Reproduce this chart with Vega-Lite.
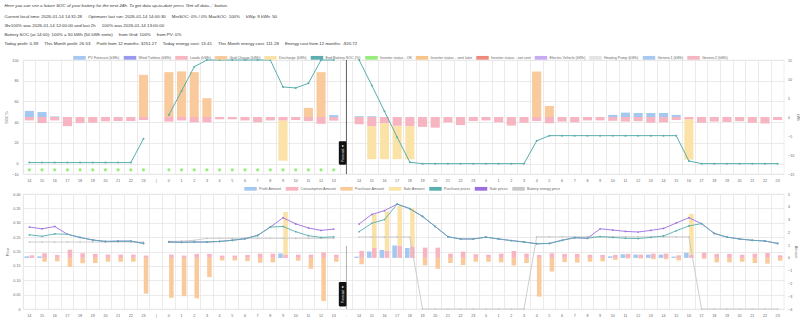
{
"$schema": "https://vega.github.io/schema/vega-lite/v6.json",
"padding": {"left": 4, "top": 2, "right": 0, "bottom": 0},
"background": "white",
"title": {
  "text": "Here you can see a future SOC of your battery for the next 24h. To get data up-to-date press 'Get all data...' button.",
  "subtitle": [
    "Current local time: 2026-01-14 14:31:28\u00a0\u00a0\u00a0\u00a0\u00a0Optimizer last run: 2026-01-14 14:00:30\u00a0\u00a0\u00a0\u00a0\u00a0MinSOC: 0% / 0% MaxSOC: 100%\u00a0\u00a0\u00a0\u00a0\u00a0kWp: 9 kWh: 50",
    "3hr100% was 2026-01-14 12:00:00 and last 2h\u00a0\u00a0\u00a0\u00a0\u00a0100% was 2026-01-14 13:00:00",
    "Battery SOC (at 14:00): 100% = 50 kWh (50 kWh netto)\u00a0\u00a0\u00a0\u00a0\u00a0from Grid: 100%\u00a0\u00a0\u00a0\u00a0\u00a0from PV: 0%",
    "Today profit: 0.39\u00a0\u00a0\u00a0\u00a0\u00a0This Month profit: 26.53\u00a0\u00a0\u00a0\u00a0\u00a0Profit from 12 months: 3251.27\u00a0\u00a0\u00a0\u00a0\u00a0Today energy cost: 13.41\u00a0\u00a0\u00a0\u00a0\u00a0This Month energy cost: 111.28\u00a0\u00a0\u00a0\u00a0\u00a0Energy cost from 12 months: -920.72"
  ],
  "anchor": "start",
  "frame": "bounds",
  "font": "Liberation Sans",
  "fontSize": 4.4,
  "fontStyle": "italic",
  "fontWeight": "normal",
  "color": "#333",
  "subtitleFont": "Liberation Sans",
  "subtitleFontSize": 4.4,
  "subtitleColor": "#333",
  "subtitleLineHeight": 9,
  "subtitlePadding": 7,
  "offset": 4
},
"config": {
  "font": "Liberation Sans",
  "view": {"stroke": "#e6e6e6", "strokeWidth": 0.6},
  "axis": {
    "labelFont": "Liberation Sans",
    "labelFontSize": 3.7,
    "labelColor": "#666",
    "titleFont": "Liberation Sans",
    "titleFontSize": 3.7,
    "titleFontWeight": "normal",
    "titleColor": "#666",
    "domain": false,
    "ticks": false,
    "labelOverlap": false,
    "labelBound": false,
    "labelFlush": false,
    "gridColor": "#e2e2e2",
    "gridWidth": 0.7
  }
},
"datasets": {
  "tb": [
    {"i":0,"s":"PV Forecast (kWh)","v":1.6},{"i":1,"s":"PV Forecast (kWh)","v":1.3},{"i":2,"s":"PV Forecast (kWh)","v":0.15},{"i":24,"s":"PV Forecast (kWh)","v":0.5},{"i":26,"s":"PV Forecast (kWh)","v":0.2},{"i":27,"s":"PV Forecast (kWh)","v":0.2},{"i":46,"s":"PV Forecast (kWh)","v":0.55},{"i":47,"s":"PV Forecast (kWh)","v":1.15},{"i":48,"s":"PV Forecast (kWh)","v":1.05},{"i":49,"s":"PV Forecast (kWh)","v":1.05},{"i":50,"s":"PV Forecast (kWh)","v":1.05},{"i":51,"s":"PV Forecast (kWh)","v":0.55},
    {"i":9,"s":"Grid Charge (kWh)","v":11.1},{"i":11,"s":"Grid Charge (kWh)","v":11.8},{"i":12,"s":"Grid Charge (kWh)","v":12.0},{"i":13,"s":"Grid Charge (kWh)","v":11.8},{"i":14,"s":"Grid Charge (kWh)","v":4.95},{"i":22,"s":"Grid Charge (kWh)","v":2.4},{"i":23,"s":"Grid Charge (kWh)","v":11.8},{"i":40,"s":"Grid Charge (kWh)","v":12.0},{"i":41,"s":"Grid Charge (kWh)","v":2.9},
    {"i":20,"s":"Discharge (kWh)","v":-10.6},{"i":27,"s":"Discharge (kWh)","v":-8.7},{"i":28,"s":"Discharge (kWh)","v":-9.5},{"i":29,"s":"Discharge (kWh)","v":-8.8},{"i":30,"s":"Discharge (kWh)","v":-8.8},{"i":52,"s":"Discharge (kWh)","v":-10.6},
    {"i":0,"s":"Loads (kWh)","v":-0.9},{"i":1,"s":"Loads (kWh)","v":-1.6},{"i":2,"s":"Loads (kWh)","v":-0.9},{"i":3,"s":"Loads (kWh)","v":-2.4},{"i":4,"s":"Loads (kWh)","v":-1.6},{"i":5,"s":"Loads (kWh)","v":-1.5},{"i":6,"s":"Loads (kWh)","v":-1.1},{"i":7,"s":"Loads (kWh)","v":-1.05},{"i":8,"s":"Loads (kWh)","v":-1.05},{"i":9,"s":"Loads (kWh)","v":-0.8},
    {"i":11,"s":"Loads (kWh)","v":-1.2},{"i":12,"s":"Loads (kWh)","v":-0.9},{"i":13,"s":"Loads (kWh)","v":-1.4},{"i":14,"s":"Loads (kWh)","v":-1.4},{"i":15,"s":"Loads (kWh)","v":-0.6},{"i":16,"s":"Loads (kWh)","v":-0.6},{"i":17,"s":"Loads (kWh)","v":-0.9},{"i":18,"s":"Loads (kWh)","v":-1.4},{"i":19,"s":"Loads (kWh)","v":-0.9},{"i":20,"s":"Loads (kWh)","v":-0.9},{"i":21,"s":"Loads (kWh)","v":-0.8},{"i":22,"s":"Loads (kWh)","v":-1.05},{"i":23,"s":"Loads (kWh)","v":-1.8},{"i":24,"s":"Loads (kWh)","v":-0.95},
    {"i":26,"s":"Loads (kWh)","v":-1.9},{"i":27,"s":"Loads (kWh)","v":-2.4},{"i":28,"s":"Loads (kWh)","v":-1.6},{"i":29,"s":"Loads (kWh)","v":-2.3},{"i":30,"s":"Loads (kWh)","v":-2.35},{"i":31,"s":"Loads (kWh)","v":-2.6},{"i":32,"s":"Loads (kWh)","v":-2.8},{"i":33,"s":"Loads (kWh)","v":-1.4},{"i":34,"s":"Loads (kWh)","v":-2.1},{"i":35,"s":"Loads (kWh)","v":-1.05},
    {"i":36,"s":"Loads (kWh)","v":-0.9},{"i":37,"s":"Loads (kWh)","v":-1.4},{"i":38,"s":"Loads (kWh)","v":-2.25},{"i":39,"s":"Loads (kWh)","v":-1.5},{"i":40,"s":"Loads (kWh)","v":-1.05},{"i":41,"s":"Loads (kWh)","v":-1.65},{"i":42,"s":"Loads (kWh)","v":-1.2},{"i":43,"s":"Loads (kWh)","v":-1.4},{"i":44,"s":"Loads (kWh)","v":-0.9},{"i":45,"s":"Loads (kWh)","v":-0.9},{"i":46,"s":"Loads (kWh)","v":-1.0},{"i":47,"s":"Loads (kWh)","v":-1.2},
    {"i":48,"s":"Loads (kWh)","v":-1.1},{"i":49,"s":"Loads (kWh)","v":-1.5},{"i":50,"s":"Loads (kWh)","v":-1.4},{"i":51,"s":"Loads (kWh)","v":-0.8},{"i":52,"s":"Loads (kWh)","v":-0.6},{"i":53,"s":"Loads (kWh)","v":-1.5},{"i":54,"s":"Loads (kWh)","v":-1.2},{"i":55,"s":"Loads (kWh)","v":-1.3},{"i":56,"s":"Loads (kWh)","v":-1.1},{"i":57,"s":"Loads (kWh)","v":-1.5},{"i":58,"s":"Loads (kWh)","v":-1.7},{"i":59,"s":"Loads (kWh)","v":-0.8}
  ],
  "soc": [
    {"i":0,"v":1,"g":"a"},{"i":1,"v":1,"g":"a"},{"i":2,"v":1,"g":"a"},{"i":3,"v":1,"g":"a"},{"i":4,"v":1,"g":"a"},{"i":5,"v":1,"g":"a"},{"i":6,"v":1,"g":"a"},{"i":7,"v":1,"g":"a"},{"i":8,"v":1,"g":"a"},{"i":9,"v":24,"g":"a"},
    {"i":11,"v":47,"g":"b"},{"i":12,"v":70,"g":"b"},{"i":13,"v":93.5,"g":"b"},{"i":14,"v":100,"g":"b"},{"i":15,"v":100,"g":"b"},{"i":16,"v":100,"g":"b"},{"i":17,"v":100,"g":"b"},{"i":18,"v":100,"g":"b"},{"i":19,"v":100,"g":"b"},{"i":20,"v":74,"g":"b"},{"i":21,"v":73,"g":"b"},{"i":22,"v":77.5,"g":"b"},{"i":23,"v":100,"g":"b"},{"i":24,"v":100,"g":"b"},
    {"i":26,"v":100,"g":"c"},{"i":27,"v":75.5,"g":"c"},{"i":28,"v":50.5,"g":"c"},{"i":29,"v":25.5,"g":"c"},{"i":30,"v":1.3,"g":"c"},{"i":31,"v":0,"g":"c"},{"i":32,"v":0,"g":"c"},{"i":33,"v":0,"g":"c"},{"i":34,"v":0,"g":"c"},{"i":35,"v":0,"g":"c"},{"i":36,"v":0,"g":"c"},{"i":37,"v":0,"g":"c"},{"i":38,"v":0,"g":"c"},{"i":39,"v":0,"g":"c"},
    {"i":40,"v":22,"g":"c"},{"i":41,"v":27,"g":"c"},{"i":42,"v":27,"g":"c"},{"i":43,"v":27,"g":"c"},{"i":44,"v":27,"g":"c"},{"i":45,"v":27,"g":"c"},{"i":46,"v":27,"g":"c"},{"i":47,"v":27,"g":"c"},{"i":48,"v":27,"g":"c"},{"i":49,"v":27,"g":"c"},{"i":50,"v":27,"g":"c"},{"i":51,"v":27,"g":"c"},{"i":52,"v":2.6,"g":"c"},
    {"i":53,"v":0,"g":"c"},{"i":54,"v":0,"g":"c"},{"i":55,"v":0,"g":"c"},{"i":56,"v":0,"g":"c"},{"i":57,"v":0,"g":"c"},{"i":58,"v":0,"g":"c"},{"i":59,"v":0,"g":"c"}
  ],
  "inv": [
    {"i":0,"v":-6},{"i":1,"v":-6},{"i":2,"v":-6},{"i":3,"v":-6},{"i":4,"v":-6},{"i":5,"v":-6},{"i":6,"v":-6},{"i":7,"v":-6},{"i":8,"v":-6},{"i":9,"v":-6},
    {"i":11,"v":-6},{"i":12,"v":-6},{"i":13,"v":-6},{"i":14,"v":-6},{"i":15,"v":-6},{"i":16,"v":-6},{"i":17,"v":-6},{"i":18,"v":-6},{"i":19,"v":-6},{"i":20,"v":-6},{"i":21,"v":-6},{"i":22,"v":-6},{"i":23,"v":-6},{"i":24,"v":-6}
  ],
  "bp": [
    {"i":0,"v":0.12},{"i":1,"v":0.12},{"i":20,"v":0.35},{"i":26,"v":0.1},{"i":27,"v":0.5},{"i":28,"v":0.62},{"i":29,"v":0.97},{"i":30,"v":0.77},{"i":46,"v":0.12},{"i":47,"v":0.28},{"i":48,"v":0.26},{"i":49,"v":0.26},{"i":50,"v":0.26},{"i":51,"v":0.1},{"i":52,"v":0.4}
  ],
  "ba": [
    {"i":0,"s":"Consumption Amount","v":0.2},{"i":1,"s":"Consumption Amount","v":0.36},{"i":2,"s":"Consumption Amount","v":0.23},{"i":3,"s":"Consumption Amount","v":0.64},{"i":4,"s":"Consumption Amount","v":0.36},{"i":5,"s":"Consumption Amount","v":0.31},{"i":6,"s":"Consumption Amount","v":0.26},{"i":7,"s":"Consumption Amount","v":0.26},{"i":8,"s":"Consumption Amount","v":0.26},{"i":9,"s":"Consumption Amount","v":0.18},
    {"i":11,"s":"Consumption Amount","v":0.26},{"i":12,"s":"Consumption Amount","v":0.18},{"i":13,"s":"Consumption Amount","v":0.31},{"i":14,"s":"Consumption Amount","v":0.31},{"i":15,"s":"Consumption Amount","v":0.18},{"i":16,"s":"Consumption Amount","v":0.18},{"i":17,"s":"Consumption Amount","v":0.23},{"i":18,"s":"Consumption Amount","v":0.33},{"i":19,"s":"Consumption Amount","v":0.33},{"i":20,"s":"Consumption Amount","v":0.25},{"i":21,"s":"Consumption Amount","v":0.25},{"i":22,"s":"Consumption Amount","v":0.25},{"i":23,"s":"Consumption Amount","v":0.43},{"i":24,"s":"Consumption Amount","v":0.25},
    {"i":26,"s":"Consumption Amount","v":0.55},{"i":27,"s":"Consumption Amount","v":0.77},{"i":28,"s":"Consumption Amount","v":0.57},{"i":29,"s":"Consumption Amount","v":0.97},{"i":30,"s":"Consumption Amount","v":0.9},{"i":31,"s":"Consumption Amount","v":0.8},{"i":32,"s":"Consumption Amount","v":0.8},{"i":33,"s":"Consumption Amount","v":0.33},{"i":34,"s":"Consumption Amount","v":0.49},{"i":35,"s":"Consumption Amount","v":0.28},
    {"i":36,"s":"Consumption Amount","v":0.25},{"i":37,"s":"Consumption Amount","v":0.33},{"i":38,"s":"Consumption Amount","v":0.54},{"i":39,"s":"Consumption Amount","v":0.33},{"i":40,"s":"Consumption Amount","v":0.23},{"i":41,"s":"Consumption Amount","v":0.36},{"i":42,"s":"Consumption Amount","v":0.31},{"i":43,"s":"Consumption Amount","v":0.31},{"i":44,"s":"Consumption Amount","v":0.25},{"i":45,"s":"Consumption Amount","v":0.23},{"i":46,"s":"Consumption Amount","v":0.23},{"i":47,"s":"Consumption Amount","v":0.31},
    {"i":48,"s":"Consumption Amount","v":0.26},{"i":49,"s":"Consumption Amount","v":0.33},{"i":50,"s":"Consumption Amount","v":0.33},{"i":51,"s":"Consumption Amount","v":0.2},{"i":52,"s":"Consumption Amount","v":0.25},{"i":53,"s":"Consumption Amount","v":0.41},{"i":54,"s":"Consumption Amount","v":0.31},{"i":55,"s":"Consumption Amount","v":0.31},{"i":56,"s":"Consumption Amount","v":0.25},{"i":57,"s":"Consumption Amount","v":0.33},{"i":58,"s":"Consumption Amount","v":0.38},{"i":59,"s":"Consumption Amount","v":0.2},
    {"i":1,"s":"Purchase Amount","v":-0.3},{"i":2,"s":"Purchase Amount","v":-0.27},{"i":3,"s":"Purchase Amount","v":-0.7},{"i":4,"s":"Purchase Amount","v":-0.42},{"i":5,"s":"Purchase Amount","v":-0.4},{"i":6,"s":"Purchase Amount","v":-0.3},{"i":7,"s":"Purchase Amount","v":-0.3},{"i":8,"s":"Purchase Amount","v":-0.3},{"i":9,"s":"Purchase Amount","v":-2.8},
    {"i":11,"s":"Purchase Amount","v":-3.12},{"i":12,"s":"Purchase Amount","v":-3.0},{"i":13,"s":"Purchase Amount","v":-3.17},{"i":14,"s":"Purchase Amount","v":-1.5},{"i":15,"s":"Purchase Amount","v":-0.2},{"i":16,"s":"Purchase Amount","v":-0.2},{"i":17,"s":"Purchase Amount","v":-0.25},{"i":18,"s":"Purchase Amount","v":-0.38},{"i":19,"s":"Purchase Amount","v":-0.35},{"i":21,"s":"Purchase Amount","v":-0.22},{"i":22,"s":"Purchase Amount","v":-0.85},{"i":23,"s":"Purchase Amount","v":-3.38},{"i":24,"s":"Purchase Amount","v":-0.3},
    {"i":26,"s":"Purchase Amount","v":-0.5},{"i":31,"s":"Purchase Amount","v":-0.58},{"i":32,"s":"Purchase Amount","v":-0.85},{"i":33,"s":"Purchase Amount","v":-0.4},{"i":34,"s":"Purchase Amount","v":-0.56},{"i":35,"s":"Purchase Amount","v":-0.3},{"i":36,"s":"Purchase Amount","v":-0.3},{"i":37,"s":"Purchase Amount","v":-0.35},{"i":38,"s":"Purchase Amount","v":-0.6},{"i":39,"s":"Purchase Amount","v":-0.4},
    {"i":40,"s":"Purchase Amount","v":-3.03},{"i":41,"s":"Purchase Amount","v":-1.07},{"i":42,"s":"Purchase Amount","v":-0.32},{"i":43,"s":"Purchase Amount","v":-0.37},{"i":44,"s":"Purchase Amount","v":-0.3},{"i":45,"s":"Purchase Amount","v":-0.27},{"i":46,"s":"Purchase Amount","v":-0.15},{"i":47,"s":"Purchase Amount","v":-0.05},{"i":48,"s":"Purchase Amount","v":-0.05},{"i":49,"s":"Purchase Amount","v":-0.1},{"i":50,"s":"Purchase Amount","v":-0.1},{"i":51,"s":"Purchase Amount","v":-0.2},
    {"i":53,"s":"Purchase Amount","v":-0.07},{"i":54,"s":"Purchase Amount","v":-0.35},{"i":55,"s":"Purchase Amount","v":-0.35},{"i":56,"s":"Purchase Amount","v":-0.3},{"i":57,"s":"Purchase Amount","v":-0.4},{"i":58,"s":"Purchase Amount","v":-0.45},{"i":59,"s":"Purchase Amount","v":-0.22},
    {"i":20,"s":"Sale Amount","v":3.34},{"i":27,"s":"Sale Amount","v":2.66},{"i":28,"s":"Sale Amount","v":3.07},{"i":29,"s":"Sale Amount","v":3.1},{"i":30,"s":"Sale Amount","v":3.0},{"i":52,"s":"Sale Amount","v":3.2}
  ],
  "bl": [
    {"i":0,"s":"pp","v":0.258,"g":"a"},{"i":1,"s":"pp","v":0.253,"g":"a"},{"i":2,"s":"pp","v":0.261,"g":"a"},{"i":3,"s":"pp","v":0.26,"g":"a"},{"i":4,"s":"pp","v":0.249,"g":"a"},{"i":5,"s":"pp","v":0.24,"g":"a"},{"i":6,"s":"pp","v":0.235,"g":"a"},{"i":7,"s":"pp","v":0.236,"g":"a"},{"i":8,"s":"pp","v":0.236,"g":"a"},{"i":9,"s":"pp","v":0.228,"g":"a"},
    {"i":11,"s":"pp","v":0.233,"g":"b"},{"i":12,"s":"pp","v":0.232,"g":"b"},{"i":13,"s":"pp","v":0.233,"g":"b"},{"i":14,"s":"pp","v":0.233,"g":"b"},{"i":15,"s":"pp","v":0.235,"g":"b"},{"i":16,"s":"pp","v":0.239,"g":"b"},{"i":17,"s":"pp","v":0.2445,"g":"b"},{"i":18,"s":"pp","v":0.256,"g":"b"},{"i":19,"s":"pp","v":0.285,"g":"b"},{"i":20,"s":"pp","v":0.287,"g":"b"},{"i":21,"s":"pp","v":0.269,"g":"b"},{"i":22,"s":"pp","v":0.255,"g":"b"},{"i":23,"s":"pp","v":0.249,"g":"b"},{"i":24,"s":"pp","v":0.251,"g":"b"},
    {"i":26,"s":"pp","v":0.269,"g":"c"},{"i":27,"s":"pp","v":0.298,"g":"c"},{"i":28,"s":"pp","v":0.311,"g":"c"},{"i":29,"s":"pp","v":0.365,"g":"c"},{"i":30,"s":"pp","v":0.349,"g":"c"},{"i":31,"s":"pp","v":0.322,"g":"c"},{"i":32,"s":"pp","v":0.287,"g":"c"},{"i":33,"s":"pp","v":0.2515,"g":"c"},{"i":34,"s":"pp","v":0.2435,"g":"c"},{"i":35,"s":"pp","v":0.2435,"g":"c"},{"i":36,"s":"pp","v":0.25,"g":"c"},{"i":37,"s":"pp","v":0.2435,"g":"c"},{"i":38,"s":"pp","v":0.238,"g":"c"},{"i":39,"s":"pp","v":0.233,"g":"c"},
    {"i":40,"s":"pp","v":0.227,"g":"c"},{"i":41,"s":"pp","v":0.228,"g":"c"},{"i":42,"s":"pp","v":0.239,"g":"c"},{"i":43,"s":"pp","v":0.248,"g":"c"},{"i":44,"s":"pp","v":0.246,"g":"c"},{"i":45,"s":"pp","v":0.252,"g":"c"},{"i":46,"s":"pp","v":0.249,"g":"c"},{"i":47,"s":"pp","v":0.246,"g":"c"},{"i":48,"s":"pp","v":0.245,"g":"c"},{"i":49,"s":"pp","v":0.249,"g":"c"},{"i":50,"s":"pp","v":0.254,"g":"c"},{"i":51,"s":"pp","v":0.272,"g":"c"},{"i":52,"s":"pp","v":0.289,"g":"c"},
    {"i":53,"s":"pp","v":0.297,"g":"c"},{"i":54,"s":"pp","v":0.263,"g":"c"},{"i":55,"s":"pp","v":0.25,"g":"c"},{"i":56,"s":"pp","v":0.2435,"g":"c"},{"i":57,"s":"pp","v":0.239,"g":"c"},{"i":58,"s":"pp","v":0.2365,"g":"c"},{"i":59,"s":"pp","v":0.228,"g":"c"},
    {"i":0,"s":"sp","v":0.285,"g":"a"},{"i":1,"s":"sp","v":0.279,"g":"a"},{"i":2,"s":"sp","v":0.287,"g":"a"},{"i":3,"s":"sp","v":0.26,"g":"a"},{"i":4,"s":"sp","v":0.249,"g":"a"},{"i":5,"s":"sp","v":0.24,"g":"a"},{"i":6,"s":"sp","v":0.235,"g":"a"},{"i":7,"s":"sp","v":0.236,"g":"a"},{"i":8,"s":"sp","v":0.236,"g":"a"},{"i":9,"s":"sp","v":0.228,"g":"a"},
    {"i":11,"s":"sp","v":0.233,"g":"b"},{"i":12,"s":"sp","v":0.232,"g":"b"},{"i":13,"s":"sp","v":0.233,"g":"b"},{"i":14,"s":"sp","v":0.233,"g":"b"},{"i":15,"s":"sp","v":0.235,"g":"b"},{"i":16,"s":"sp","v":0.239,"g":"b"},{"i":17,"s":"sp","v":0.2445,"g":"b"},{"i":18,"s":"sp","v":0.256,"g":"b"},{"i":19,"s":"sp","v":0.285,"g":"b"},{"i":20,"s":"sp","v":0.3175,"g":"b"},{"i":21,"s":"sp","v":0.296,"g":"b"},{"i":22,"s":"sp","v":0.282,"g":"b"},{"i":23,"s":"sp","v":0.2734,"g":"b"},{"i":24,"s":"sp","v":0.278,"g":"b"},
    {"i":26,"s":"sp","v":0.2956,"g":"c"},{"i":27,"s":"sp","v":0.329,"g":"c"},{"i":28,"s":"sp","v":0.342,"g":"c"},{"i":29,"s":"sp","v":0.365,"g":"c"},{"i":30,"s":"sp","v":0.349,"g":"c"},{"i":31,"s":"sp","v":0.322,"g":"c"},{"i":32,"s":"sp","v":0.287,"g":"c"},{"i":33,"s":"sp","v":0.2515,"g":"c"},{"i":34,"s":"sp","v":0.2435,"g":"c"},{"i":35,"s":"sp","v":0.2435,"g":"c"},{"i":36,"s":"sp","v":0.25,"g":"c"},{"i":37,"s":"sp","v":0.2435,"g":"c"},{"i":38,"s":"sp","v":0.238,"g":"c"},{"i":39,"s":"sp","v":0.233,"g":"c"},
    {"i":40,"s":"sp","v":0.227,"g":"c"},{"i":41,"s":"sp","v":0.228,"g":"c"},{"i":42,"s":"sp","v":0.239,"g":"c"},{"i":43,"s":"sp","v":0.248,"g":"c"},{"i":44,"s":"sp","v":0.246,"g":"c"},{"i":45,"s":"sp","v":0.279,"g":"c"},{"i":46,"s":"sp","v":0.2747,"g":"c"},{"i":47,"s":"sp","v":0.27,"g":"c"},{"i":48,"s":"sp","v":0.2678,"g":"c"},{"i":49,"s":"sp","v":0.2734,"g":"c"},{"i":50,"s":"sp","v":0.2803,"g":"c"},{"i":51,"s":"sp","v":0.299,"g":"c"},{"i":52,"s":"sp","v":0.3175,"g":"c"},
    {"i":53,"s":"sp","v":0.297,"g":"c"},{"i":54,"s":"sp","v":0.263,"g":"c"},{"i":55,"s":"sp","v":0.25,"g":"c"},{"i":56,"s":"sp","v":0.2435,"g":"c"},{"i":57,"s":"sp","v":0.239,"g":"c"},{"i":58,"s":"sp","v":0.2365,"g":"c"},{"i":59,"s":"sp","v":0.228,"g":"c"},
    {"i":0,"s":"be","v":0.233,"g":"a"},{"i":1,"s":"be","v":0.233,"g":"a"},{"i":2,"s":"be","v":0.233,"g":"a"},{"i":3,"s":"be","v":0.233,"g":"a"},{"i":4,"s":"be","v":0.233,"g":"a"},{"i":5,"s":"be","v":0.233,"g":"a"},{"i":6,"s":"be","v":0.233,"g":"a"},{"i":7,"s":"be","v":0.233,"g":"a"},{"i":8,"s":"be","v":0.233,"g":"a"},{"i":9,"s":"be","v":0.233,"g":"a"},
    {"i":11,"s":"be","v":0.235,"g":"b"},{"i":12,"s":"be","v":0.236,"g":"b"},{"i":13,"s":"be","v":0.239,"g":"b"},{"i":14,"s":"be","v":0.246,"g":"b"},{"i":15,"s":"be","v":0.246,"g":"b"},{"i":16,"s":"be","v":0.246,"g":"b"},{"i":17,"s":"be","v":0.246,"g":"b"},{"i":18,"s":"be","v":0.246,"g":"b"},{"i":19,"s":"be","v":0.246,"g":"b"},{"i":20,"s":"be","v":0.246,"g":"b"},{"i":21,"s":"be","v":0.246,"g":"b"},{"i":22,"s":"be","v":0.246,"g":"b"},{"i":23,"s":"be","v":0.246,"g":"b"},{"i":24,"s":"be","v":0.246,"g":"b"},
    {"i":26,"s":"be","v":0.2504,"g":"c"},{"i":27,"s":"be","v":0.2504,"g":"c"},{"i":28,"s":"be","v":0.2504,"g":"c"},{"i":29,"s":"be","v":0.2504,"g":"c"},{"i":30,"s":"be","v":0.2504,"g":"c"},{"i":31,"s":"be","v":0,"g":"c"},{"i":32,"s":"be","v":0,"g":"c"},{"i":33,"s":"be","v":0,"g":"c"},{"i":34,"s":"be","v":0,"g":"c"},{"i":35,"s":"be","v":0,"g":"c"},{"i":36,"s":"be","v":0,"g":"c"},{"i":37,"s":"be","v":0,"g":"c"},{"i":38,"s":"be","v":0,"g":"c"},{"i":39,"s":"be","v":0,"g":"c"},
    {"i":40,"s":"be","v":0.251,"g":"c"},{"i":41,"s":"be","v":0.251,"g":"c"},{"i":42,"s":"be","v":0.251,"g":"c"},{"i":43,"s":"be","v":0.251,"g":"c"},{"i":44,"s":"be","v":0.251,"g":"c"},{"i":45,"s":"be","v":0.251,"g":"c"},{"i":46,"s":"be","v":0.251,"g":"c"},{"i":47,"s":"be","v":0.251,"g":"c"},{"i":48,"s":"be","v":0.251,"g":"c"},{"i":49,"s":"be","v":0.251,"g":"c"},{"i":50,"s":"be","v":0.251,"g":"c"},{"i":51,"s":"be","v":0.251,"g":"c"},{"i":52,"s":"be","v":0.251,"g":"c"},
    {"i":53,"s":"be","v":0,"g":"c"},{"i":54,"s":"be","v":0,"g":"c"},{"i":55,"s":"be","v":0,"g":"c"},{"i":56,"s":"be","v":0,"g":"c"},{"i":57,"s":"be","v":0,"g":"c"},{"i":58,"s":"be","v":0,"g":"c"},{"i":59,"s":"be","v":0,"g":"c"}
  ],
  "fc": [{"i":25}]
},
"bounds": "flush",
"spacing": 20,
"resolve": {"scale": {"color": "independent", "x": "independent", "y": "independent"}, "legend": {"color": "independent"}},
"vconcat": [
  {
    "width": 761,
    "height": 114,
    "layer": [
      {
        "data": {"name": "tb"},
        "mark": {"type": "bar", "width": {"band": 0.72}},
        "encoding": {
          "x": {"field": "i", "type": "ordinal",
            "scale": {"domain": [0,1,2,3,4,5,6,7,8,9,10,11,12,13,14,15,16,17,18,19,20,21,22,23,24,25,26,27,28,29,30,31,32,33,34,35,36,37,38,39,40,41,42,43,44,45,46,47,48,49,50,51,52,53,54,55,56,57,58,59], "paddingInner": 0, "paddingOuter": 0},
            "axis": {"orient": "bottom", "title": null, "labelAngle": 0, "labelPadding": 4.5, "grid": false,
              "labelExpr": "split('14,15,16,17,18,19,20,21,22,23,|,0,1,2,3,4,5,6,7,8,9,10,11,12,13,:,14,15,16,17,18,19,20,21,22,23,0,1,2,3,4,5,6,7,8,9,10,11,12,13,14,15,16,17,18,19,20,21,22,23', ',')[datum.value]"}},
          "y": {"field": "v", "type": "quantitative", "stack": "zero",
            "scale": {"domain": [-15, 15], "nice": false},
            "axis": {"orient": "right", "values": [-15,-10,-5,0,5,10,15], "title": "kWh", "grid": false, "labelPadding": 3.5, "titlePadding": 1.5}},
          "color": {"field": "s", "type": "nominal",
            "scale": {"domain": ["PV Forecast (kWh)","Wind Turbine (kWh)","Loads (kWh)","Grid Charge (kWh)","Discharge (kWh)","End Battery SOC (%)","Inverter status - OK","Inverter status - sent later","Inverter status - not sent","Electric Vehicle (kWh)","Heating Pump (kWh)","Generic1 (kWh)","Generic2 (kWh)"],
                      "range": ["#a4c8f0","#9a9aec","#f7b4c1","#f9cb9c","#fbe3a8","#5aaeae","#98ec7a","#f7c58a","#ec8a7e","#c6abf2","#e3e3e3","#a8c8f0","#f6b5c2"]},
            "legend": {"orient": "none", "legendX": 50, "legendY": -9, "direction": "horizontal", "columns": 13, "title": null,
              "symbolType": "M-1,-0.3H1V0.3H-1Z", "symbolSize": 156, "symbolStrokeWidth": 0, "labelFontSize": 3.7, "labelColor": "#666", "labelFont": "Liberation Sans",
              "labelOffset": 2, "columnPadding": 3.5, "padding": 0, "labelLimit": 200}},
          "order": {"field": "s", "sort": "descending"}
        }
      },
      {
        "layer": [
          {
            "data": {"name": "soc"},
            "mark": {"type": "line", "strokeWidth": 1, "point": {"filled": true, "size": 4}},
            "encoding": {
              "x": {"field": "i", "type": "ordinal",
                "axis": {"orient": "top", "title": null, "labels": false, "ticks": false, "domain": false, "grid": true, "bandPosition": 0}},
              "y": {"field": "v", "type": "quantitative", "scale": {"domain": [-10, 100], "nice": false},
                "axis": {"orient": "left", "values": [-10,0,20,40,60,80,100], "title": "SOC %", "grid": true, "labelPadding": 5, "titlePadding": 3}},
              "detail": {"field": "g"},
              "color": {"datum": "End Battery SOC (%)",
                "legend": {"orient": "none", "legendX": 50, "legendY": -9, "direction": "horizontal", "columns": 13, "title": null,
                  "symbolType": "M-1,-0.3H1V0.3H-1Z", "symbolSize": 156, "symbolStrokeWidth": 0, "labelFontSize": 3.7, "labelColor": "#666", "labelFont": "Liberation Sans",
                  "labelOffset": 2, "columnPadding": 3.5, "padding": 0, "labelLimit": 200}}
            }
          },
          {
            "data": {"name": "inv"},
            "mark": {"type": "circle", "size": 10, "opacity": 1},
            "encoding": {
              "x": {"field": "i", "type": "ordinal",
                "axis": {"orient": "top", "title": null, "labels": false, "ticks": false, "domain": false, "grid": true, "bandPosition": 0}},
              "y": {"field": "v", "type": "quantitative", "scale": {"domain": [-10, 100], "nice": false},
                "axis": {"orient": "left", "values": [-10,0,20,40,60,80,100], "title": "SOC %", "grid": true, "labelPadding": 5, "titlePadding": 3}},
              "color": {"datum": "Inverter status - OK",
                "legend": {"orient": "none", "legendX": 50, "legendY": -9, "direction": "horizontal", "columns": 13, "title": null,
                  "symbolType": "M-1,-0.3H1V0.3H-1Z", "symbolSize": 156, "symbolStrokeWidth": 0, "labelFontSize": 3.7, "labelColor": "#666", "labelFont": "Liberation Sans",
                  "labelOffset": 2, "columnPadding": 3.5, "padding": 0, "labelLimit": 200}}
            }
          }
        ]
      },
      {
        "data": {"name": "fc"},
        "layer": [
          {
            "mark": {"type": "rule", "color": "#333", "strokeWidth": 0.8},
            "encoding": {"x": {"field": "i", "type": "ordinal", "axis": null}}
          },
          {
            "mark": {"type": "bar", "color": "#111", "width": 7.6, "xOffset": -3.8, "cornerRadius": 1.2},
            "encoding": {"x": {"field": "i", "type": "ordinal", "axis": null},
              "y": {"datum": -1, "type": "quantitative", "scale": {"domain": [-10, 100], "nice": false}, "axis": null},
              "y2": {"datum": 21.5}}
          },
          {
            "mark": {"type": "text", "text": "Forecast ▼", "angle": 270, "color": "white", "fontSize": 3.4, "xOffset": -3.8, "align": "center", "baseline": "middle"},
            "encoding": {"x": {"field": "i", "type": "ordinal", "axis": null},
              "y": {"datum": 10.25, "type": "quantitative", "axis": null}}
          }
        ]
      }
    ],
    "resolve": {"scale": {"y": "independent"}, "axis": {"x": "independent"}}
  },
  {
    "width": 761,
    "height": 115,
    "layer": [
      {
        "layer": [
          {
            "data": {"name": "bp"},
            "mark": {"type": "bar", "width": {"band": 0.36}, "xOffset": -2.54},
            "encoding": {
              "x": {"field": "i", "type": "ordinal",
                "scale": {"domain": [0,1,2,3,4,5,6,7,8,9,10,11,12,13,14,15,16,17,18,19,20,21,22,23,24,25,26,27,28,29,30,31,32,33,34,35,36,37,38,39,40,41,42,43,44,45,46,47,48,49,50,51,52,53,54,55,56,57,58,59], "paddingInner": 0, "paddingOuter": 0},
                "axis": {"orient": "bottom", "title": null, "labelAngle": 0, "labelPadding": 4.5, "grid": false,
                  "labelExpr": "split('14,15,16,17,18,19,20,21,22,23,|,0,1,2,3,4,5,6,7,8,9,10,11,12,13,:,14,15,16,17,18,19,20,21,22,23,0,1,2,3,4,5,6,7,8,9,10,11,12,13,14,15,16,17,18,19,20,21,22,23', ',')[datum.value]"}},
              "y": {"field": "v", "type": "quantitative", "stack": "zero", "scale": {"domain": [-4, 5], "nice": false},
                "axis": {"orient": "right", "values": [-4,-3,-2,-1,0,1,2,3,4,5], "title": "Amount", "grid": false, "labelPadding": 3.5, "titlePadding": 1.5}},
              "color": {"datum": "Profit Amount",
                "scale": {"domain": ["Profit Amount","Consumption Amount","Purchase Amount","Sale Amount","Purchase prices","Sale prices","Battery energy price"],
                          "range": ["#a4c8f0","#f7b4c1","#f9cb9c","#fbe3a8","#5aaeae","#9b6ee0","#c8c8c8"]},
                "legend": {"orient": "none", "legendX": 221, "legendY": -12, "direction": "horizontal", "columns": 7, "title": null,
                  "symbolType": "M-1,-0.3H1V0.3H-1Z", "symbolSize": 156, "symbolStrokeWidth": 0, "labelFontSize": 3.7, "labelColor": "#666", "labelFont": "Liberation Sans",
                  "labelOffset": 2, "columnPadding": 3.5, "padding": 0, "labelLimit": 200}}
            }
          },
          {
            "data": {"name": "ba"},
            "mark": {"type": "bar", "width": {"band": 0.36}, "xOffset": 2.54},
            "encoding": {
              "x": {"field": "i", "type": "ordinal",
                "axis": {"orient": "bottom", "title": null, "labelAngle": 0, "labelPadding": 4.5, "grid": false,
                  "labelExpr": "split('14,15,16,17,18,19,20,21,22,23,|,0,1,2,3,4,5,6,7,8,9,10,11,12,13,:,14,15,16,17,18,19,20,21,22,23,0,1,2,3,4,5,6,7,8,9,10,11,12,13,14,15,16,17,18,19,20,21,22,23', ',')[datum.value]"}},
              "y": {"field": "v", "type": "quantitative", "stack": "zero", "scale": {"domain": [-4, 5], "nice": false},
                "axis": {"orient": "right", "values": [-4,-3,-2,-1,0,1,2,3,4,5], "title": "Amount", "grid": false, "labelPadding": 3.5, "titlePadding": 1.5}},
              "color": {"field": "s", "type": "nominal",
                "legend": {"orient": "none", "legendX": 221, "legendY": -12, "direction": "horizontal", "columns": 7, "title": null,
                  "symbolType": "M-1,-0.3H1V0.3H-1Z", "symbolSize": 156, "symbolStrokeWidth": 0, "labelFontSize": 3.7, "labelColor": "#666", "labelFont": "Liberation Sans",
                  "labelOffset": 2, "columnPadding": 3.5, "padding": 0, "labelLimit": 200}},
              "order": {"field": "s", "sort": "ascending"}
            }
          }
        ]
      },
      {
        "data": {"name": "bl"},
        "layer": [
          {
            "transform": [{"filter": "datum.s === 'be'"}],
            "mark": {"type": "line", "strokeWidth": 0.9, "point": {"filled": true, "size": 3}},
            "encoding": {
              "x": {"field": "i", "type": "ordinal",
                "axis": {"orient": "top", "title": null, "labels": false, "ticks": false, "domain": false, "grid": true, "bandPosition": 0}},
              "y": {"field": "v", "type": "quantitative", "scale": {"domain": [0, 0.4], "nice": false},
                "axis": {"orient": "left", "values": [0,0.05,0.1,0.15,0.2,0.25,0.3,0.35,0.4], "labelExpr": "datum.value == 0 ? '0' : format(datum.value, '.2f')", "title": "Price", "grid": true, "labelPadding": 3, "titlePadding": 3}},
              "detail": {"field": "g"},
              "color": {"datum": "Battery energy price",
                "legend": {"orient": "none", "legendX": 221, "legendY": -12, "direction": "horizontal", "columns": 7, "title": null,
                  "symbolType": "M-1,-0.3H1V0.3H-1Z", "symbolSize": 156, "symbolStrokeWidth": 0, "labelFontSize": 3.7, "labelColor": "#666", "labelFont": "Liberation Sans",
                  "labelOffset": 2, "columnPadding": 3.5, "padding": 0, "labelLimit": 200}}
            }
          },
          {
            "transform": [{"filter": "datum.s === 'sp'"}],
            "mark": {"type": "line", "strokeWidth": 0.9, "point": {"filled": true, "size": 3}},
            "encoding": {
              "x": {"field": "i", "type": "ordinal",
                "axis": {"orient": "top", "title": null, "labels": false, "ticks": false, "domain": false, "grid": true, "bandPosition": 0}},
              "y": {"field": "v", "type": "quantitative", "scale": {"domain": [0, 0.4], "nice": false},
                "axis": {"orient": "left", "values": [0,0.05,0.1,0.15,0.2,0.25,0.3,0.35,0.4], "labelExpr": "datum.value == 0 ? '0' : format(datum.value, '.2f')", "title": "Price", "grid": true, "labelPadding": 3, "titlePadding": 3}},
              "detail": {"field": "g"},
              "color": {"datum": "Sale prices",
                "legend": {"orient": "none", "legendX": 221, "legendY": -12, "direction": "horizontal", "columns": 7, "title": null,
                  "symbolType": "M-1,-0.3H1V0.3H-1Z", "symbolSize": 156, "symbolStrokeWidth": 0, "labelFontSize": 3.7, "labelColor": "#666", "labelFont": "Liberation Sans",
                  "labelOffset": 2, "columnPadding": 3.5, "padding": 0, "labelLimit": 200}}
            }
          },
          {
            "transform": [{"filter": "datum.s === 'pp'"}],
            "mark": {"type": "line", "strokeWidth": 0.9, "point": {"filled": true, "size": 3}},
            "encoding": {
              "x": {"field": "i", "type": "ordinal",
                "axis": {"orient": "top", "title": null, "labels": false, "ticks": false, "domain": false, "grid": true, "bandPosition": 0}},
              "y": {"field": "v", "type": "quantitative", "scale": {"domain": [0, 0.4], "nice": false},
                "axis": {"orient": "left", "values": [0,0.05,0.1,0.15,0.2,0.25,0.3,0.35,0.4], "labelExpr": "datum.value == 0 ? '0' : format(datum.value, '.2f')", "title": "Price", "grid": true, "labelPadding": 3, "titlePadding": 3}},
              "detail": {"field": "g"},
              "color": {"datum": "Purchase prices",
                "legend": {"orient": "none", "legendX": 221, "legendY": -12, "direction": "horizontal", "columns": 7, "title": null,
                  "symbolType": "M-1,-0.3H1V0.3H-1Z", "symbolSize": 156, "symbolStrokeWidth": 0, "labelFontSize": 3.7, "labelColor": "#666", "labelFont": "Liberation Sans",
                  "labelOffset": 2, "columnPadding": 3.5, "padding": 0, "labelLimit": 200}}
            }
          }
        ]
      },
      {
        "data": {"name": "fc"},
        "layer": [
          {
            "mark": {"type": "rule", "color": "#999", "strokeWidth": 0.8},
            "encoding": {"x": {"field": "i", "type": "ordinal", "axis": null},
              "y": {"datum": 0, "type": "quantitative", "scale": {"domain": [0, 0.4], "nice": false}, "axis": null},
              "y2": {"datum": 0.22}}
          },
          {
            "mark": {"type": "bar", "color": "#111", "width": 7.6, "xOffset": -3.8, "cornerRadius": 1.2},
            "encoding": {"x": {"field": "i", "type": "ordinal", "axis": null},
              "y": {"datum": 0.009, "type": "quantitative", "axis": null},
              "y2": {"datum": 0.094}}
          },
          {
            "mark": {"type": "text", "text": "Forecast ▼", "angle": 270, "color": "white", "fontSize": 3.4, "xOffset": -3.8, "align": "center", "baseline": "middle"},
            "encoding": {"x": {"field": "i", "type": "ordinal", "axis": null},
              "y": {"datum": 0.0515, "type": "quantitative", "axis": null}}
          }
        ]
      }
    ],
    "resolve": {"scale": {"y": "independent"}, "axis": {"x": "independent"}}
  }
]
}
